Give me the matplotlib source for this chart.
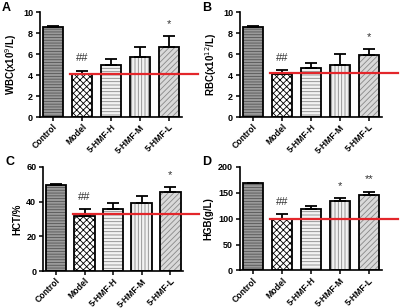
import numpy as np
import matplotlib.pyplot as plt

plt.rcParams['font.family'] = ['Liberation Sans', 'DejaVu Sans']
plt.rcParams['hatch.linewidth'] = 0.6

# ---- data ----
groups = ["Control", "Model", "5-HMF-H", "5-HMF-M", "5-HMF-L"]

wbc = [8.6, 4.1, 5.0, 5.7, 6.7]
wbc_err = [0.1, 0.3, 0.5, 1.0, 1.0]
wbc_ref = 4.1
wbc_sig = ["", "##", "", "", "*"]

rbc = [8.6, 4.1, 4.7, 5.0, 5.9]
rbc_err = [0.1, 0.35, 0.45, 1.0, 0.55]
rbc_ref = 4.15
rbc_sig = ["", "##", "", "", "*"]

hct = [49.5, 32.0, 35.5, 39.0, 45.5]
hct_err = [0.4, 3.5, 3.5, 4.5, 3.0]
hct_ref = 33.0
hct_sig = ["", "##", "", "", "*"]

hgb = [168, 100, 119, 134, 145]
hgb_err = [1, 9, 5, 6, 7]
hgb_ref = 100
hgb_sig = ["", "##", "", "*", "**"]

# bar fill styles
faces = ["#9a9a9a", "white", "#f2f2f2", "#f2f2f2", "#d9d9d9"]
hatch_col = ["#555555", "black", "#888888", "#888888", "#888888"]
hatches = ["------", "xxxxx", "-----", "|||||", "//////"]

panels = [
    ("A", wbc, wbc_err, wbc_ref, wbc_sig, "WBC(x10$^{9}$/L)", 10, [0, 2, 4, 6, 8, 10], [0.10, 0.62, 0.355, 0.341]),
    ("B", rbc, rbc_err, rbc_ref, rbc_sig, "RBC(x10$^{12}$/L)", 10, [0, 2, 4, 6, 8, 10], [0.60, 0.62, 0.355, 0.341]),
    ("C", hct, hct_err, hct_ref, hct_sig, "HCT/%", 60, [0, 20, 40, 60], [0.108, 0.12, 0.35, 0.338]),
    ("D", hgb, hgb_err, hgb_ref, hgb_sig, "HGB(g/L)", 200, [0, 50, 100, 150, 200], [0.60, 0.122, 0.355, 0.336]),
]

fig = plt.figure(figsize=(4, 3.08), dpi=100)
x = np.arange(len(groups))

for letter, vals, errs, ref, sig, ylab, ymax, yt, rect in panels:
    ax = fig.add_axes(rect)
    # hatched fill
    ax.bar(x, vals, width=0.72, color=faces, edgecolor=hatch_col, hatch=hatches, linewidth=0)
    # outlines
    ax.bar(x, vals, width=0.72, fill=False, edgecolor="black", linewidth=1.3)
    ax.errorbar(x, vals, yerr=[np.zeros(len(errs)), errs], fmt="none",
                ecolor="black", elinewidth=1.3, capsize=4, capthick=1.3)
    for xi, v, e, s in zip(x, vals, errs, sig):
        if s:
            ax.text(xi, v + e + ymax * 0.07, s, ha="center", va="bottom",
                    fontsize=8, color="#333333")
    ax.plot([0.6, 5.0], [ref, ref], color="#e3262b", lw=1.6, clip_on=False, zorder=5)
    ax.set_xlim(-0.45, 4.45)
    ax.set_ylim(0, ymax)
    ax.set_yticks(yt)
    ax.set_xticks(x)
    ax.set_xticklabels(groups, rotation=45, ha="right", rotation_mode="anchor",
                       fontsize=6.2, fontweight="bold")
    for t in ax.get_yticklabels():
        t.set_fontsize(6.5)
        t.set_fontweight("bold")
    ax.set_ylabel(ylab, fontsize=7, fontweight="bold", labelpad=3)
    ax.spines["top"].set_visible(False)
    ax.spines["right"].set_visible(False)
    ax.spines["left"].set_linewidth(1.2)
    ax.spines["bottom"].set_linewidth(1.2)
    ax.tick_params(width=1.1, length=3, pad=2)
    ax.tick_params(axis="x", pad=1)
    fig.text(rect[0] - 0.095, 0.995 if rect[1] > 0.5 else 0.495, letter,
             fontsize=9, fontweight="bold", va="top", ha="left")

fig.savefig("out.png", dpi=100)
